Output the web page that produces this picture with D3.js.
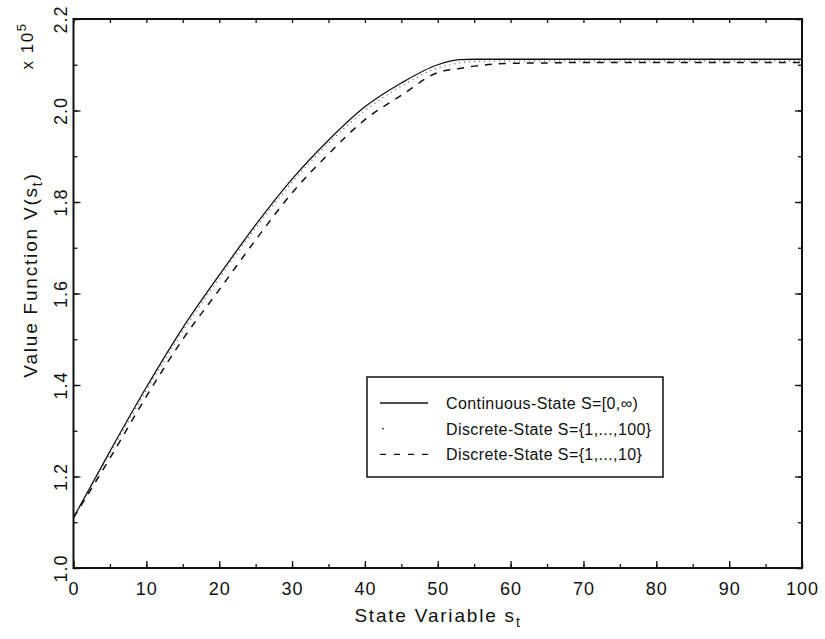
<!DOCTYPE html>
<html>
<head>
<meta charset="utf-8">
<script src="https://cdn.jsdelivr.net/npm/d3@7"></script>
<style>
  body { margin: 0; background: #fff; }
  text { font-family: "Liberation Sans", Arial, sans-serif; fill: #111; }
</style>
</head>
<body>
<div id="chart"></div>
<script>
// values (value function in units of 10^5)
var stateGrid = [0, 5, 10, 15, 20, 25, 30, 35, 40, 45, 50, 53, 55, 60, 65, 70, 75, 80, 85, 90, 95, 100];
var continuousValues = [1.11, 1.255, 1.395, 1.525, 1.64, 1.75, 1.85, 1.935, 2.008, 2.06, 2.10, 2.111, 2.112, 2.112, 2.112, 2.112, 2.112, 2.112, 2.112, 2.112, 2.112, 2.112];
var discrete100Values = [1.11, 1.25, 1.388, 1.517, 1.633, 1.743, 1.843, 1.928, 2.0, 2.053, 2.093, 2.104, 2.107, 2.108, 2.108, 2.108, 2.108, 2.108, 2.108, 2.108, 2.108, 2.108];
var discrete10Values = [1.11, 1.24, 1.375, 1.50, 1.608, 1.717, 1.82, 1.905, 1.98, 2.033, 2.083, 2.092, 2.097, 2.103, 2.104, 2.105, 2.105, 2.105, 2.105, 2.105, 2.105, 2.105];

var xTicks = [0, 10, 20, 30, 40, 50, 60, 70, 80, 90, 100];
var yTicks = [1.0, 1.2, 1.4, 1.6, 1.8, 2.0, 2.2];
var seriesNames = ["Continuous-State S=[0,\u221E)", "Discrete-State S={1,...,100}", "Discrete-State S={1,...,10}"];

var margin = { top: 19, right: 23, bottom: 71, left: 73.5 };
var width = 825 - margin.left - margin.right,
    height = 639 - margin.top - margin.bottom;

var svg = d3.select("#chart").append("svg")
    .attr("width", 825)
    .attr("height", 639);
var g = svg.append("g")
    .attr("transform", "translate(" + margin.left + "," + margin.top + ")");

var x = d3.scaleLinear().domain([0, 100]).range([0, width]);
var y = d3.scaleLinear().domain([1.0, 2.2]).range([height, 0]);

// minor ticks (inward, all four sides)
var minorX = d3.range(0, 101, 5), minorY = d3.range(10, 23).map(function(d) { return d / 10; });
g.append("g").attr("transform", "translate(0," + height + ")")
    .call(d3.axisBottom(x).tickValues(minorX).tickSize(-4).tickFormat(""));
g.append("g")
    .call(d3.axisTop(x).tickValues(minorX).tickSize(-4).tickFormat(""));
g.append("g")
    .call(d3.axisLeft(y).tickValues(minorY).tickSize(-4).tickFormat(""));
g.append("g").attr("transform", "translate(" + width + ",0)")
    .call(d3.axisRight(y).tickValues(minorY).tickSize(-4).tickFormat(""));

// major ticks
var xAxis = g.append("g").attr("class", "x-axis axis")
    .attr("transform", "translate(0," + height + ")")
    .call(d3.axisBottom(x).tickValues(xTicks).tickSizeInner(-7).tickSizeOuter(0).tickPadding(14));
var yAxis = g.append("g").attr("class", "y-axis axis")
    .call(d3.axisLeft(y).tickValues(yTicks).tickSizeInner(-7).tickSizeOuter(0).tickFormat(d3.format(".1f")));
g.append("g").attr("transform", "translate(" + width + ",0)")
    .call(d3.axisRight(y).tickValues(yTicks).tickSizeInner(-7).tickSizeOuter(0).tickFormat(""));

g.selectAll("path.domain").remove();
g.selectAll(".tick line").attr("stroke", "#111").attr("stroke-width", 1.3);

xAxis.selectAll("text")
    .style("font-size", "18px")
    .style("letter-spacing", "1px")
    .attr("fill", "#111");

// rotated y tick labels
yAxis.selectAll(".tick text")
    .attr("x", null).attr("dy", null)
    .attr("transform", "translate(-7,0) rotate(-90)")
    .attr("text-anchor", "middle")
    .style("font-size", "18px")
    .style("letter-spacing", "1px")
    .attr("fill", "#111");

// frame
g.append("rect")
    .attr("width", width).attr("height", height)
    .attr("fill", "none").attr("stroke", "#111").attr("stroke-width", 2);

var line = d3.line()
    .x(function(d) { return x(d[0]); })
    .y(function(d) { return y(d[1]); })
    .curve(d3.curveMonotoneX);

function pairs(vals) { return stateGrid.map(function(s, i) { return [s, vals[i]]; }); }

var styles = [
    { dash: null, width: 1.3, color: "#111" },
    { dash: "1,4", width: 1.2, color: "#555" },
    { dash: "7,7", width: 1.5, color: "#111" }
];
[continuousValues, discrete100Values, discrete10Values].forEach(function(vals, i) {
    g.append("path")
        .datum(pairs(vals))
        .attr("fill", "none")
        .attr("stroke", styles[i].color)
        .attr("stroke-width", styles[i].width)
        .attr("stroke-dasharray", styles[i].dash)
        .attr("d", line);
});

// legend
var legend = svg.append("g").attr("transform", "translate(367,377)");
legend.append("rect")
    .attr("width", 296).attr("height", 100)
    .attr("fill", "#fff").attr("stroke", "#111").attr("stroke-width", 1.5);
seriesNames.forEach(function(name, i) {
    var ly = 26 + i * 25.7;
    if (i === 1) {
        legend.append("circle").attr("cx", 16).attr("cy", ly).attr("r", 0.9).attr("fill", "#333");
    } else {
        legend.append("line")
            .attr("x1", 13).attr("x2", 61).attr("y1", ly).attr("y2", ly)
            .attr("stroke", "#111").attr("stroke-width", 1.3)
            .attr("stroke-dasharray", i === 2 ? "6,8" : null);
    }
    legend.append("text")
        .attr("x", 79).attr("y", ly + 6)
        .style("font-size", "16px")
        .style("letter-spacing", "0.4px")
        .text(name);
});

// axis titles
var xt = svg.append("text")
    .attr("x", 438).attr("y", 622)
    .attr("text-anchor", "middle")
    .style("font-size", "19px")
    .style("letter-spacing", "1.8px");
xt.append("tspan").text("State Variable s");
xt.append("tspan").attr("dy", 5).style("font-size", "14px").text("t");

var yt = svg.append("text")
    .attr("transform", "translate(37,275) rotate(-90)")
    .attr("text-anchor", "middle")
    .style("font-size", "19px")
    .style("letter-spacing", "1.8px");
yt.append("tspan").text("Value Function V(s");
yt.append("tspan").attr("dy", 5).style("font-size", "14px").text("t");
yt.append("tspan").attr("dy", -5).text(")");

var sc = svg.append("text")
    .attr("transform", "translate(33,46) rotate(-90)")
    .attr("text-anchor", "middle")
    .style("font-size", "17px")
    .style("letter-spacing", "1.5px");
sc.append("tspan").text("x 10");
sc.append("tspan").attr("dy", -7).style("font-size", "13px").text("5");
</script>
</body>
</html>
